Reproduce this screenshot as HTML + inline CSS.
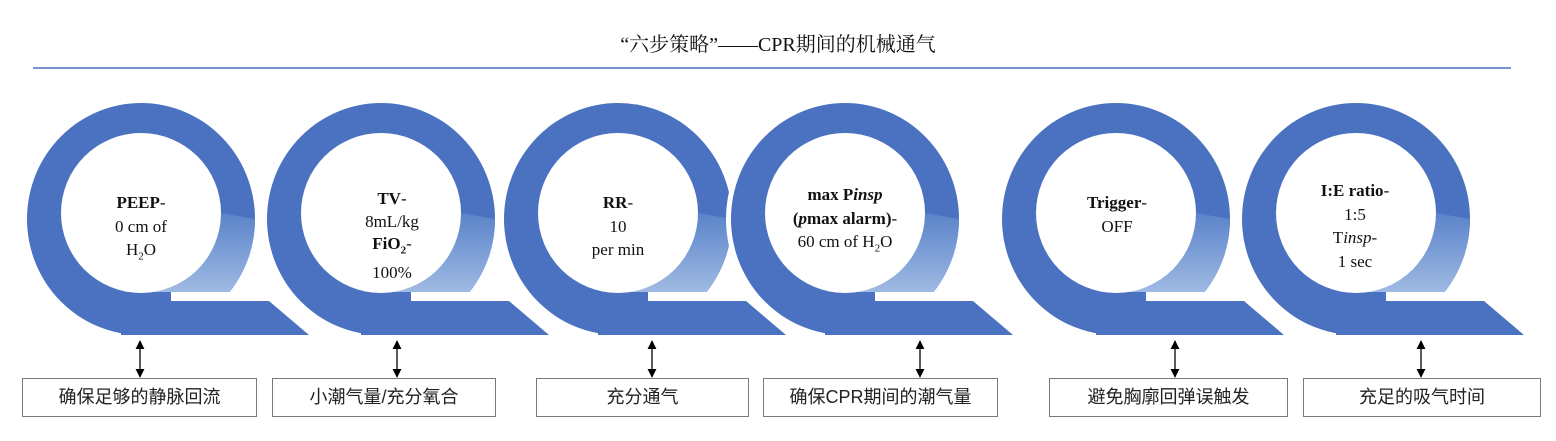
<!DOCTYPE html>
<html><head><meta charset="utf-8"><style>
body{margin:0;width:1556px;height:441px;background:#fff;position:relative;overflow:hidden;font-family:"Liberation Serif","Noto Serif CJK SC",serif}
.t{position:absolute;width:200px;text-align:center;font-size:17px;color:#111;line-height:23.5px}
.box{position:absolute;top:378px;height:39px;border:1px solid #7a7a7a;box-sizing:border-box;text-align:center;line-height:37px;font-size:18px;color:#222;font-family:"Liberation Sans","Noto Sans CJK SC",sans-serif}
b{font-weight:bold}
</style></head><body>
<div style="position:absolute;top:28px;left:0;width:1556px;text-align:center;font-size:20px;color:#111;font-family:'Liberation Serif','Noto Serif CJK SC',serif">“六步策略”——CPR期间的机械通气</div>
<svg width="1556" height="441" style="position:absolute;left:0;top:0">
<defs>
<linearGradient id="g" x1="0" y1="0" x2="0" y2="1"><stop offset="0" stop-color="#5a83c9"/><stop offset="1" stop-color="#9fbae3"/></linearGradient>
<marker id="a" viewBox="0 0 10 10" refX="9" refY="5" markerWidth="7" markerHeight="7" orient="auto-start-reverse"><path d="M0,0L10,5L0,10z" fill="#000"/></marker>
</defs>
<line x1="33" y1="68" x2="1511" y2="68" stroke="#4a72c4" stroke-width="1.5"/>
<g id="rings"></g>
</svg>
<script>
var cs=[141,381,618,845,1116,1356],s='';
cs.forEach(function(c){
 var cy=219,ry=116,rx=114,iy=213,ir=80;
 s+='<ellipse cx="'+c+'" cy="'+cy+'" rx="'+(rx+5)+'" ry="'+(ry+5)+'" fill="#fff"/>';
 s+='<ellipse cx="'+c+'" cy="'+cy+'" rx="'+rx+'" ry="'+ry+'" fill="#4a72c0"/>';
 s+='<path d="M'+(c+rx)+','+cy+' A'+rx+' '+ry+' 0 0 1 '+(c+rx*Math.sqrt(1-Math.pow((292-cy)/ry,2)))+',292 L'+(c+Math.sqrt(ir*ir-(292-iy)*(292-iy)))+',292 A'+ir+' '+ir+' 0 0 0 '+(c+ir)+','+iy+' Z" fill="url(#g)"/>';
 s+='<circle cx="'+c+'" cy="'+iy+'" r="'+ir+'" fill="#fff"/>';
 s+='<path d="M'+(c-20)+',301 L'+(c+128)+',301 L'+(c+168)+',335 L'+(c-20)+',335 Z" fill="#4a72c0"/>';
 s+='<rect x="'+(c+30)+'" y="292" width="'+(rx)+'" height="9" fill="#fff"/>';
});
document.getElementById('rings').innerHTML=s;
[140,397,652,920,1175,1421].forEach(function(x){
 document.getElementById('rings').insertAdjacentHTML('beforeend','<line x1="'+x+'" y1="341" x2="'+x+'" y2="377" stroke="#000" stroke-width="1.3" marker-start="url(#a)" marker-end="url(#a)"/>');
});
</script>
<div class="t" style="left:41px;top:191px"><b>PEEP</b>-<br>0 cm of<br>H<sub style="font-size:11px">2</sub>O</div>
<div class="t" style="left:292px;top:188px;line-height:22.5px"><b>TV</b>-<br>8mL/kg<br><b>FiO<sub style="font-size:11px">2</sub></b>-<br>100%</div>
<div class="t" style="left:518px;top:191px"><b>RR</b>-<br>10<br>per min</div>
<div class="t" style="left:745px;top:183px"><b>max P<i>insp</i></b><br><b>(<i>p</i>max alarm)</b>-<br>60 cm of H<sub style="font-size:11px">2</sub>O</div>
<div class="t" style="left:1017px;top:191px"><b>Trigger</b>-<br>OFF</div>
<div class="t" style="left:1255px;top:179px"><b>I:E ratio</b>-<br>1:5<br>T<i>insp</i>-<br>1 sec</div>
<div class="box" style="left:22px;width:235px">确保足够的静脉回流</div>
<div class="box" style="left:272px;width:224px">小潮气量/充分氧合</div>
<div class="box" style="left:536px;width:213px">充分通气</div>
<div class="box" style="left:763px;width:235px">确保CPR期间的潮气量</div>
<div class="box" style="left:1049px;width:239px">避免胸廓回弹误触发</div>
<div class="box" style="left:1303px;width:238px">充足的吸气时间</div>
</body></html>
